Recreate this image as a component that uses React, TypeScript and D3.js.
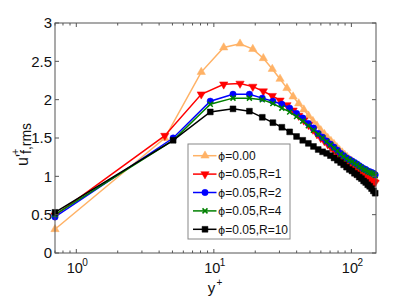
import * as d3 from 'd3'

// wall-normal positions (two grids)
const yPlusA = [
  0.7, 4.4, 8.1, 11.8, 15.5, 19.2, 22.9, 26.6, 30.3, 34.0, 37.7, 41.4, 45.1, 48.8,
  52.5, 56.2, 59.9, 63.6, 67.3, 71.0, 74.7, 78.4, 82.1, 85.8, 89.5, 93.2, 96.9,
  100.6, 104.3, 108.0, 111.7, 115.4, 119.1, 122.8, 126.5, 130.2, 133.9, 137.6,
  141.3, 145.0, 148.7,
]
const yPlusB = [
  0.7, 5.06, 9.42, 13.78, 18.14, 22.5, 26.86, 31.22, 35.58, 39.94, 44.3, 48.66,
  53.02, 57.38, 61.74, 66.1, 70.46, 74.82, 79.18, 83.54, 87.9, 92.26, 96.62,
  100.98, 105.34, 109.7, 114.06, 118.42, 122.78, 127.14, 131.5, 135.86, 140.22,
  144.58, 148.94,
]

const urmsPhi0 = [
  0.31, 1.5, 2.36, 2.68, 2.73, 2.66, 2.54, 2.4, 2.27, 2.15, 2.04, 1.95, 1.87, 1.79,
  1.72, 1.66, 1.6, 1.55, 1.5, 1.46, 1.42, 1.38, 1.34, 1.31, 1.28, 1.25, 1.22, 1.2,
  1.17, 1.15, 1.13, 1.11, 1.09, 1.07, 1.05, 1.04, 1.02, 1.0, 0.99, 0.97, 0.96,
]
const urmsR1 = [
  0.49, 1.53, 2.07, 2.2, 2.21, 2.17, 2.11, 2.05, 1.99, 1.93, 1.86, 1.79, 1.73, 1.67,
  1.61, 1.55, 1.5, 1.46, 1.42, 1.38, 1.34, 1.3, 1.27, 1.24, 1.21, 1.18, 1.16, 1.13,
  1.11, 1.09, 1.07, 1.05, 1.03, 1.01, 1.0, 0.98, 0.97, 0.95, 0.94, 0.93, 0.92,
]
const urmsR2 = [
  0.47, 1.5, 1.98, 2.07, 2.07, 2.02, 1.98, 1.94, 1.89, 1.82, 1.76, 1.69, 1.63, 1.56,
  1.51, 1.46, 1.42, 1.38, 1.34, 1.3, 1.27, 1.24, 1.22, 1.2, 1.18, 1.16, 1.14, 1.12,
  1.1, 1.09, 1.07, 1.06, 1.05, 1.04, 1.02,
]
const urmsR4 = [
  0.5, 1.47, 1.94, 2.02, 2.02, 2.0, 1.95, 1.89, 1.84, 1.78, 1.72, 1.66, 1.6, 1.55,
  1.5, 1.45, 1.41, 1.37, 1.33, 1.29, 1.26, 1.23, 1.21, 1.19, 1.17, 1.15, 1.13, 1.11,
  1.09, 1.08, 1.06, 1.05, 1.04, 1.03, 1.01,
]
const urmsR10 = [
  0.53, 1.47, 1.84, 1.88, 1.85, 1.77, 1.7, 1.64, 1.58, 1.52, 1.47, 1.43, 1.39, 1.35,
  1.32, 1.3, 1.27, 1.24, 1.21, 1.18, 1.15, 1.12, 1.09, 1.07, 1.04, 1.02, 0.99, 0.97,
  0.94, 0.92, 0.89, 0.87, 0.84, 0.81, 0.78,
]

const legendLabels = ['=0.00', '=0.05,R=1', '=0.05,R=2', '=0.05,R=4', '=0.05,R=10']
const yTicks = [0, 0.5, 1, 1.5, 2, 2.5, 3]
const xDecades = [0, 1, 2]

const width = 415
const height = 297
const marginLeft = 55
const marginRight = 39
const marginTop = 23
const marginBottom = 44
const font = 'Liberation Sans, Arial, Helvetica, sans-serif'

type Series = {
  label: string
  x: number[]
  y: number[]
  color: string
  symbol: d3.SymbolType
  size: number
  rotate?: number
  stroked?: boolean
}

const series: Series[] = [
  { label: legendLabels[0], x: yPlusA, y: urmsPhi0, color: '#ffb266', symbol: d3.symbolTriangle, size: 30 },
  { label: legendLabels[1], x: yPlusA, y: urmsR1, color: '#ff0000', symbol: d3.symbolTriangle, size: 30, rotate: 180 },
  { label: legendLabels[2], x: yPlusB, y: urmsR2, color: '#0000ff', symbol: d3.symbolCircle, size: 32 },
  { label: legendLabels[3], x: yPlusB, y: urmsR4, color: '#008000', symbol: d3.symbolX, size: 18, stroked: true },
  { label: legendLabels[4], x: yPlusB, y: urmsR10, color: '#000000', symbol: d3.symbolSquare, size: 34 },
]

export default function App() {
  const x = d3.scaleLog([0.7, 151], [marginLeft, width - marginRight])
  const y = d3.scaleLinear([0, 3], [height - marginBottom, marginTop])
  const x0 = marginLeft
  const x1 = width - marginRight
  const y0 = height - marginBottom
  const y1 = marginTop

  const minorTicks: number[] = []
  ;[-1, 0, 1, 2].forEach((d) => {
    for (let k = 2; k <= 9; k++) {
      const v = k * Math.pow(10, d)
      if (v > 0.7 && v < 151) minorTicks.push(v)
    }
  })

  const line = d3.line<[number, number]>()
  const legX = 188
  const legY = 144
  const rowH = 18.4

  return (
    <svg
      width={width}
      height={height}
      style={{ position: 'absolute', left: 0, top: 0, background: '#fff' }}
      fontFamily={font}
    >
      <rect x={0} y={0} width={width} height={height} fill="#fff" />

      {series.map((s) => {
        const pts = s.x.map((v, i) => [x(v), y(s.y[i])] as [number, number])
        const sym = d3.symbol().type(s.symbol).size(s.size)() as string
        return (
          <g key={s.label}>
            <path d={line(pts) as string} fill="none" stroke={s.color} strokeWidth={1.5} />
            {pts.map((p, i) => (
              <path
                key={i}
                d={sym}
                transform={`translate(${p[0]},${p[1]}) rotate(${s.rotate ?? 0})`}
                fill={s.stroked ? 'none' : s.color}
                stroke={s.color}
                strokeWidth={s.stroked ? 1.5 : 0.5}
              />
            ))}
          </g>
        )
      })}

      {/* axes box */}
      <rect x={x0} y={y1} width={x1 - x0} height={y0 - y1} fill="none" stroke="#555" strokeWidth={1} />
      {yTicks.map((t) => (
        <g key={t}>
          <line x1={x0} x2={x0 + 4} y1={y(t)} y2={y(t)} stroke="#555" />
          <line x1={x1} x2={x1 - 4} y1={y(t)} y2={y(t)} stroke="#555" />
          <text x={x0 - 3} y={y(t)} dy="0.36em" textAnchor="end" fontSize={15} fill="#111">
            {t}
          </text>
        </g>
      ))}
      {xDecades.map((d) => {
        const px = x(Math.pow(10, d))
        return (
          <g key={d}>
            <line x1={px} x2={px} y1={y0} y2={y0 - 4} stroke="#555" />
            <line x1={px} x2={px} y1={y1} y2={y1 + 4} stroke="#555" />
            <text x={px - 1.5} y={273} fontSize={14.5} fill="#111" textAnchor="middle">
              10
            </text>
            <text x={px + 6} y={266} fontSize={10} fill="#111" textAnchor="start">
              {d}
            </text>
          </g>
        )
      })}
      {minorTicks.map((v) => (
        <g key={v}>
          <line x1={x(v)} x2={x(v)} y1={y0} y2={y0 - 2.5} stroke="#555" />
          <line x1={x(v)} x2={x(v)} y1={y1} y2={y1 + 2.5} stroke="#555" />
        </g>
      ))}

      {/* axis labels */}
      <text x={(x0 + x1) / 2 - 4} y={293} fontSize={15} fill="#111" textAnchor="middle">
        y
      </text>
      <text x={(x0 + x1) / 2 + 1} y={286} fontSize={10} fill="#111">
        +
      </text>
      <g transform="translate(28,166) rotate(-90)" fill="#111">
        <text x={0} y={0} fontSize={16}>u'</text>
        <text x={11} y={-9} fontSize={11}>+</text>
        <text x={12} y={3} fontSize={14}>f,rms</text>
      </g>

      {/* legend */}
      <rect x={legX} y={legY} width={102} height={95} fill="#fff" stroke="#888" strokeWidth={1} />
      {series.map((s, i) => {
        const cy = legY + 11.7 + i * rowH
        const sym = d3.symbol().type(s.symbol).size(s.size)() as string
        return (
          <g key={s.label}>
            <line x1={legX + 5} x2={legX + 28.5} y1={cy} y2={cy} stroke={s.color} strokeWidth={1.5} />
            <path
              d={sym}
              transform={`translate(${legX + 17},${cy}) rotate(${s.rotate ?? 0})`}
              fill={s.stroked ? 'none' : s.color}
              stroke={s.color}
              strokeWidth={s.stroked ? 1.5 : 0.5}
            />
            <text x={legX + 30} y={cy} dy="0.36em" fontSize={12} fill="#111">
              <tspan fontFamily="DejaVu Sans" fontSize={11}>ϕ</tspan>
              {s.label}
            </text>
          </g>
        )
      })}
    </svg>
  )
}
